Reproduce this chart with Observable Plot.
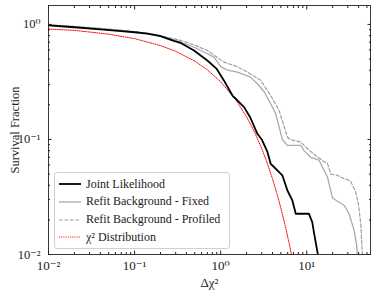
<!DOCTYPE html>
<html><head><meta charset="utf-8">
<script src="https://cdn.jsdelivr.net/npm/d3@7"></script>
<script src="https://cdn.jsdelivr.net/npm/@observablehq/plot@0.6"></script>
<style>
body{margin:0;background:#fff;}
#wrap{position:relative;width:374px;height:293px;}
#legend{position:absolute;left:54px;top:172px;width:176px;height:77px;border:1px solid #d0d0d0;border-radius:3px;background:rgba(255,255,255,0.85);box-sizing:border-box;}
.row{position:absolute;left:4px;display:flex;align-items:center;height:14px;}
.row span{margin-left:5px;white-space:nowrap;font-family:"Liberation Serif","DejaVu Serif",serif;font-size:12px;color:#222;}
</style>
</head><body>
<div id="wrap"><div id="legend"></div></div>
<script>
// Joint Likelihood
const jointX = [0.01,0.02,0.04,0.07,0.1,0.14,0.2,0.285,0.343,0.49,0.7,0.9,1.09,1.37,1.49,1.87,2.2,2.67,3.0,3.49,3.81,4.77,5.2,5.96,6.8,7.45,10.6,11.6,12.2,13.5];
const jointY = [0.98,0.945,0.905,0.875,0.855,0.83,0.79,0.72,0.69,0.594,0.486,0.41,0.326,0.241,0.226,0.191,0.156,0.112,0.1,0.078,0.0615,0.052,0.0488,0.036,0.0295,0.0226,0.0226,0.019,0.0151,0.0099];
// Refit Background - Fixed
const fixedX = [0.01,0.02,0.04,0.07,0.1,0.14,0.2,0.285,0.343,0.5,0.7,0.835,1.0,1.2,1.56,2.2,2.67,3.2,3.81,4.36,5.2,5.96,8.5,9.3,11.1,13.9,17.4,19.9,27.2,31,35.5,38,39];
const fixedY = [0.99,0.955,0.92,0.885,0.86,0.835,0.795,0.735,0.70,0.63,0.556,0.52,0.43,0.40,0.385,0.35,0.305,0.26,0.204,0.167,0.10,0.0887,0.0887,0.080,0.070,0.066,0.047,0.031,0.0267,0.0226,0.0162,0.012,0.009];
// Refit Background - Profiled
const profX = [0.01,0.02,0.04,0.07,0.1,0.14,0.2,0.285,0.343,0.5,0.7,1.09,1.56,2.2,2.92,3.81,4.77,5.96,6.4,8.5,10.2,12.7,15.9,17.4,19,22.7,27.2,32,37,40,42.5,44.5];
const profY = [0.995,0.96,0.925,0.89,0.865,0.84,0.80,0.75,0.726,0.66,0.594,0.47,0.43,0.373,0.326,0.241,0.179,0.105,0.10,0.095,0.083,0.0725,0.064,0.062,0.05,0.0488,0.0454,0.044,0.035,0.027,0.018,0.009];
// chi^2 distribution
const chiX = [0.01,0.02,0.05,0.1,0.2,0.3,0.5,0.7,1,1.5,2,2.5,3,3.5,4,4.5,5,5.5,6,6.5,7];
const chiY = [0.91,0.888,0.823,0.752,0.655,0.584,0.48,0.403,0.317,0.221,0.157,0.114,0.0833,0.0614,0.0455,0.0339,0.0253,0.019,0.0143,0.0108,0.0082];

const seriesNames = ["Joint Likelihood","Refit Background - Fixed","Refit Background - Profiled","\u03c7\u00b2 Distribution"];
const seriesColors = ["#000000","#aaaaaa","#999999","#ff0000"];
const seriesDash = [null,null,"3.5,2","1,1.2"];
const seriesWidth = [1.8,1.3,1.1,1];

const xMajor = [0.01,0.1,1,10];
const xMinor = [2,3,4,5,6,7,8,9].flatMap(k => [k*0.01,k*0.1,k,k*10]).filter(v => v < 55);
const yMajor = [0.01,0.1,1];
const yMinor = [2,3,4,5,6,7,8,9].flatMap(k => [k*0.01,k*0.1]);
const tickLabels = {"0.01":"10\u207b\u00b2","0.1":"10\u207b\u00b9","1":"10\u2070","10":"10\u00b9"};

const toRows = (xs, ys) => xs.map((x,i) => ({x, y: ys[i]}));
const data = [toRows(jointX,jointY), toRows(fixedX,fixedY), toRows(profX,profY), toRows(chiX,chiY)];
const fmt = d => tickLabels[String(d)] ?? "";
const blank = () => "";

const lineMarks = [3,2,1,0].map(i => Plot.line(data[i], {x:"x", y:"y", stroke: seriesColors[i], strokeWidth: seriesWidth[i], strokeDasharray: seriesDash[i] ?? undefined, clip:true}));

const plot = Plot.plot({
  width:374, height:293, marginLeft:48, marginRight:4, marginTop:5, marginBottom:39,
  style:{fontFamily:"'Liberation Serif','DejaVu Serif',serif", fontSize:"12px", color:"#222", background:"#fff"},
  x:{type:"log", domain:[0.01,55]},
  y:{type:"log", domain:[0.01,1.46]},
  marks:[
    ...lineMarks,
    Plot.frame({stroke:"#222", strokeWidth:0.9}),
    Plot.axisX({ticks:xMajor, tickSize:-3.5, tickPadding:9.5, tickFormat:fmt, label:"\u0394\u03c7\u00b2", labelArrow:"none", labelAnchor:"center", labelOffset:32, fontSize:13}),
    Plot.axisX({ticks:xMinor, tickSize:-2, tickFormat:blank, label:null}),
    Plot.axisX({anchor:"top", ticks:xMajor, tickSize:-3.5, tickFormat:blank, label:null}),
    Plot.axisX({anchor:"top", ticks:xMinor, tickSize:-2, tickFormat:blank, label:null}),
    Plot.axisY({ticks:yMajor, tickSize:-3.5, tickPadding:11.5, tickFormat:fmt, label:"Survival Fraction", labelArrow:"none", labelAnchor:"center", labelOffset:38, fontSize:12.5}),
    Plot.axisY({ticks:yMinor, tickSize:-2, tickFormat:blank, label:null}),
    Plot.axisY({anchor:"right", ticks:yMajor, tickSize:-3.5, tickFormat:blank, label:null}),
    Plot.axisY({anchor:"right", ticks:yMinor, tickSize:-2, tickFormat:blank, label:null})
  ]
});
const wrap = document.getElementById("wrap");
wrap.insertBefore(plot, wrap.firstChild);

const legend = document.getElementById("legend");
seriesNames.forEach((name,i) => {
  const row = document.createElement("div");
  row.className = "row";
  row.style.top = (4 + i*17.8) + "px";
  const dash = seriesDash[i] ? `stroke-dasharray="${seriesDash[i]}"` : "";
  row.innerHTML = `<svg width="22" height="10"><line x1="0" y1="5" x2="22" y2="5" stroke="${seriesColors[i]}" stroke-width="${seriesWidth[i]}" ${dash}/></svg><span>${name}</span>`;
  legend.appendChild(row);
});
</script>
</body></html>
